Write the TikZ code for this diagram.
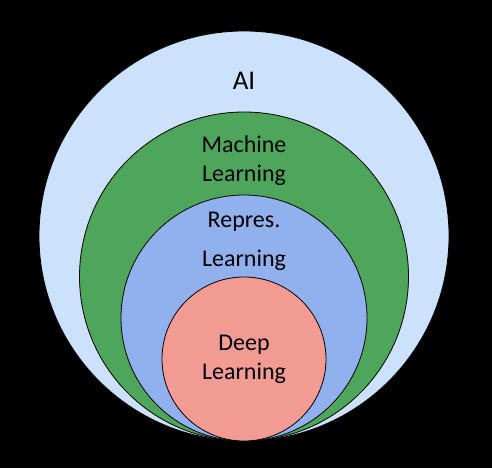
\documentclass[tikz,border=0pt]{standalone}
\usepackage{fontspec}
\setmainfont{Carlito}
\usepackage{tikz}
\usetikzlibrary{positioning}
\definecolor{aiblue}{HTML}{CCE1FC}
\definecolor{mlgreen}{HTML}{4DA659}
\definecolor{repblue}{HTML}{91B0EE}
\definecolor{dlred}{HTML}{F29B93}
\tikzset{ring/.style={circle, draw=black, line width=0.8pt, inner sep=0pt},
  lbl/.style={font=\fontsize{24}{29}\selectfont, align=center, inner sep=0pt}}

\begin{document}
\begin{tikzpicture}[x=1pt,y=-1pt]
\fill[black] (0,0) rectangle (492,468);
\useasboundingbox (0,0) rectangle (492,468);
\node[ring, fill=aiblue, minimum size=410pt] (ai) at (244,236) {};
\node[ring, fill=mlgreen, minimum size=329pt] (ml) at (244,276.5) {};
\node[ring, fill=repblue, minimum size=246pt] (rep) at (244,318) {};
\node[ring, fill=dlred, minimum size=164pt] (dl) at (244,359) {};
\node[lbl, font=\fontsize{27}{32}\selectfont] (ailbl) at (244,81) {AI};
\node[lbl] (mllbl) at (244,161) {Machine\\Learning};
\node[lbl] (replbl) at (244,222) {Repres.};
\node[lbl] (replbl2) at (244,260) {Learning};
\node[lbl] (dllbl) at (244,359) {Deep\\Learning};
\end{tikzpicture}
\end{document}
